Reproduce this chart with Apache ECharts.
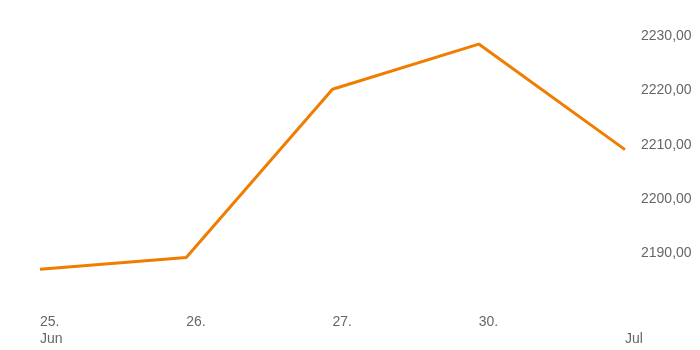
<html>
<head>
    <meta charset="utf-8">
    <script src="https://cdn.jsdelivr.net/npm/echarts@6/dist/echarts.min.js"></script>
</head>
<body style="margin:0">
<div id="main" style="width: 700px;height:350px;"></div>
<script>
    // tick labels on the date axis
    var dayLabels = ['25.\nJun', '26.', '27.', '30.', '\nJul'];
    // price values
    var prices = [2187.1, 2189.3, 2220.2, 2228.5, 2209.1];

    var myChart = echarts.init(document.getElementById('main'));
    var option = {
        animation: false,
        grid: {
            left: 40,
            right: 75,
            top: 0,
            bottom: 42
        },
        xAxis: {
            type: 'category',
            boundaryGap: false,
            data: dayLabels,
            axisLine: {show: false},
            axisTick: {show: false},
            axisLabel: {
                align: 'left',
                margin: 6,
                color: '#666',
                fontFamily: 'Liberation Sans',
                fontSize: 14,
                lineHeight: 17
            }
        },
        yAxis: {
            type: 'value',
            position: 'right',
            min: 2180,
            max: 2236.6,
            interval: 10,
            splitLine: {show: false},
            axisLine: {show: false},
            axisTick: {show: false},
            axisLabel: {
                margin: 16,
                color: '#666',
                fontFamily: 'Liberation Sans',
                fontSize: 14,
                formatter: function (v) {
                    if (v <= 2180 || v > 2235 || Math.abs(v % 10) > 0.01) return '';
                    return v.toFixed(2).replace('.', ',');
                }
            }
        },
        series: [
            {
                type: 'line',
                data: prices,
                symbol: 'none',
                lineStyle: {
                    color: '#f07d00',
                    width: 3
                }
            }
        ]
    };
    myChart.setOption(option);
</script>
</body>
</html>
